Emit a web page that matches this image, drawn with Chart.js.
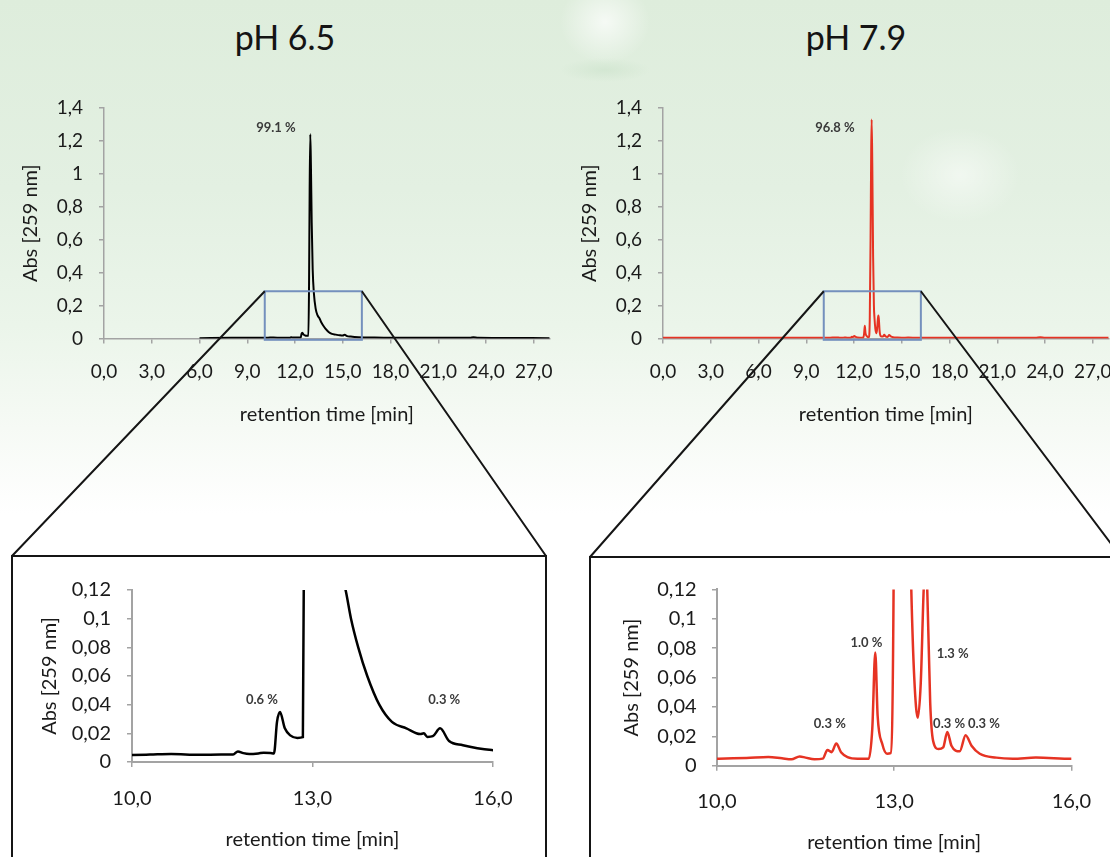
<!DOCTYPE html>
<html>
<head>
<meta charset="utf-8">
<title>HPLC purity pH 6.5 / pH 7.9</title>
<script src="https://cdn.jsdelivr.net/npm/chart.js@4.4.1/dist/chart.umd.min.js"></script>
<style>
  html, body { margin: 0; padding: 0; }
  body {
    width: 1110px; height: 857px; overflow: hidden; position: relative;
    font-family: Lato, "Open Sans", sans-serif;
    background:
      radial-gradient(ellipse 45px 42px at 605px 22px, rgba(255,255,255,0.7), rgba(255,255,255,0)),
      radial-gradient(ellipse 45px 12px at 605px 70px, rgba(196,222,196,0.45), rgba(196,222,196,0)),
      radial-gradient(ellipse 60px 48px at 960px 175px, rgba(255,255,255,0.5), rgba(255,255,255,0)),
      linear-gradient(180deg, #deeddc 0%, #e3f0e2 22%, #ebf5ea 38%, #f6faf5 50%, #ffffff 60%);
  }
  canvas { position: absolute; }
  .ph { position: absolute; top: 17px; width: 200px; text-align: center;
        font-size: 34px; line-height: 40px; color: #141414; }
</style>
</head>
<body>
<div class="ph" style="left:185px">pH 6.5</div>
<div class="ph" style="left:756px">pH 7.9</div>

<canvas id="top65" width="570" height="370" style="left:0px;top:80px"></canvas>
<canvas id="top79" width="570" height="370" style="left:559px;top:80px"></canvas>
<canvas id="zoom65" width="528" height="295" style="left:14px;top:562px"></canvas>
<canvas id="zoom79" width="518" height="295" style="left:592px;top:562px"></canvas>
<canvas id="overlay" width="1110" height="857" style="left:0;top:0;pointer-events:none"></canvas>

<script>
// ---------------- DATA ----------------
// pH 6.5 trace: retention time [min] / Abs [259 nm]
const time65 = [6.0, 8.0, 10.0, 10.3, 10.65, 11.12, 11.48, 11.68, 11.76, 11.85, 11.95, 12.1, 12.19, 12.3,
  12.36, 12.41, 12.46, 12.54, 12.63, 12.75, 12.84, 12.88, 12.92, 12.96, 13.0, 13.05, 13.11, 13.19, 13.3,
  13.42, 13.55, 13.64, 13.76, 13.91, 14.11, 14.32, 14.56, 14.79, 14.85, 14.91, 15.0, 15.12, 15.27, 15.5,
  15.74, 15.98, 17.0, 19.0, 21.0, 23.0, 23.2, 23.5, 25.0, 28.0];
const abs65 = [0.002, 0.004, 0.0049, 0.0052, 0.0056, 0.005, 0.0052, 0.0052, 0.0074, 0.0062, 0.0056, 0.006, 0.0065, 0.0063,
  0.006, 0.028, 0.0348, 0.0235, 0.0186, 0.0168, 0.0173, 0.3, 0.9, 1.24, 1.05, 0.7, 0.42, 0.27, 0.18,
  0.14, 0.12, 0.1, 0.08, 0.06, 0.04, 0.028, 0.0235, 0.0195, 0.02, 0.0175, 0.018, 0.0235, 0.0146, 0.0117,
  0.0096, 0.0083, 0.006, 0.004, 0.004, 0.004, 0.007, 0.004, 0.003, 0.002];

// pH 7.9 trace
const time79 = [0, 3, 6, 8, 10.03, 10.5, 10.87, 11.1, 11.26, 11.4, 11.5, 11.65, 11.79, 11.87, 11.94, 12.02,
  12.1, 12.21, 12.38, 12.57, 12.63, 12.68, 12.72, 12.8, 12.88, 12.94, 12.99, 13.04, 13.08, 13.11, 13.15,
  13.2, 13.25, 13.29, 13.34, 13.4, 13.45, 13.5, 13.53, 13.56, 13.61, 13.66, 13.75, 13.83, 13.9, 13.97,
  14.11, 14.21, 14.31, 14.45, 14.73, 15.01, 15.4, 16.01, 18, 20, 22, 23.4, 23.7, 24, 26, 28];
const abs79 = [0.004, 0.004, 0.004, 0.0045, 0.0048, 0.0052, 0.0059, 0.005, 0.0044, 0.0063, 0.0055, 0.0044, 0.0048, 0.0107, 0.0092, 0.0151,
  0.0092, 0.0059, 0.0048, 0.0048, 0.0256, 0.077, 0.034, 0.0146, 0.0081, 0.0085, 0.12, 0.6, 1.15, 1.33, 1.05,
  0.5, 0.2, 0.12, 0.06, 0.0326, 0.056, 0.12, 0.14, 0.12, 0.043, 0.0168, 0.0114, 0.0125, 0.023, 0.0136,
  0.0098, 0.0208, 0.0136, 0.0081, 0.0055, 0.0048, 0.0055, 0.0048, 0.005, 0.005, 0.005, 0.005, 0.008, 0.005, 0.005, 0.005];

// axis ticks
const overviewTimeTicks = [0, 3, 6, 9, 12, 15, 18, 21, 24, 27];
const overviewTimeLabels = ["0,0", "3,0", "6,0", "9,0", "12,0", "15,0", "18,0", "21,0", "24,0", "27,0"];
const overviewAbsTicks = [0, 0.2, 0.4, 0.6, 0.8, 1, 1.2, 1.4];
const overviewAbsLabels = ["0", "0,2", "0,4", "0,6", "0,8", "1", "1,2", "1,4"];
const zoomTimeTicks = [10, 13, 16];
const zoomTimeLabels = ["10,0", "13,0", "16,0"];
const zoomAbsTicks = [0, 0.02, 0.04, 0.06, 0.08, 0.1, 0.12];
const zoomAbsLabels = ["0", "0,02", "0,04", "0,06", "0,08", "0,1", "0,12"];

// peak percentages (text, retention time, absorbance where the label sits)
const mainText65 = ["99.1 %"], mainTime65 = [10.8], mainAbs65 = [1.28];
const mainText79 = ["96.8 %"], mainTime79 = [10.8], mainAbs79 = [1.28];
const minorText65 = ["0.6 %", "0.3 %"], minorTime65 = [12.16, 15.19], minorAbs65 = [0.0433, 0.0433];
const minorText79 = ["0.3 %", "1.0 %", "1.3 %", "0.3 %", "0.3 %"];
const minorTime79 = [11.91, 12.53, 13.99, 13.93, 14.52];
const minorAbs79 = [0.0282, 0.0835, 0.0763, 0.0282, 0.0282];

// ---------------- STYLE ----------------
const FONT = "Lato, 'Open Sans', sans-serif";
const AXIS = "#a3a3a3";
const TEXT = "#1a1a1a";
const RED = "#e63323";
const ZOOM_BOX = { from: 10.1, to: 16.2, top: 0.287, bottom: -0.008 };

const peakLabels = {
  id: "peakLabels",
  afterDatasetsDraw(chart, args, opts) {
    const { ctx, scales: { x, y } } = chart;
    ctx.save();
    if (opts.box) {
      ctx.strokeStyle = "#7490bd";
      ctx.lineWidth = 2;
      const x0 = x.getPixelForValue(ZOOM_BOX.from), x1 = x.getPixelForValue(ZOOM_BOX.to);
      const y0 = y.getPixelForValue(ZOOM_BOX.top), y1 = y.getPixelForValue(ZOOM_BOX.bottom);
      ctx.strokeRect(x0, y0, x1 - x0, y1 - y0);
    }
    ctx.font = "bold 13px " + FONT;
    ctx.fillStyle = "#3a3a3a";
    ctx.textAlign = "center";
    ctx.textBaseline = "middle";
    opts.text.forEach((t, i) => {
      ctx.fillText(t, x.getPixelForValue(opts.times[i]), y.getPixelForValue(opts.abs[i]));
    });
    ctx.restore();
  }
};

function timeAxis(ticks, labels, min, max, c) {
  return {
    type: "linear", min: min, max: max,
    afterBuildTicks: s => { s.ticks = ticks.map(v => ({ value: v })); },
    afterFit: s => { s.height = c.height; },
    ticks: { autoSkip: false, maxRotation: 0, padding: c.pad, color: TEXT,
             font: { family: FONT, size: c.size }, callback: (v, i) => labels[i] },
    grid: { drawOnChartArea: false, tickLength: 5, color: AXIS, lineWidth: 1.5 },
    border: { color: AXIS, width: c.axisWidth },
    title: { display: true, text: "retention time [min]", color: TEXT,
             font: { family: FONT, size: c.titleSize }, padding: { top: 0, bottom: c.titlePad } }
  };
}

function absAxis(ticks, labels, max, c) {
  return {
    type: "linear", min: 0, max: max,
    afterBuildTicks: s => { s.ticks = ticks.map(v => ({ value: v })); },
    afterFit: s => { s.width = c.width; },
    ticks: { padding: c.pad, color: TEXT, font: { family: FONT, size: c.size },
             callback: (v, i) => labels[i] },
    grid: { drawOnChartArea: false, tickLength: 5, color: AXIS, lineWidth: 1.5 },
    border: { color: AXIS, width: c.axisWidth },
    title: { display: true, text: "Abs [259 nm]", color: TEXT,
             font: { family: FONT, size: c.titleSize }, padding: { top: c.titlePad, bottom: 0 } }
  };
}

function makeChart(id, times, abs, color, lineWidth, scales, padding, labels) {
  return new Chart(document.getElementById(id), {
    type: "line",
    data: {
      datasets: [{
        data: times.map((t, i) => ({ x: t, y: abs[i] })),
        borderColor: color,
        borderWidth: lineWidth,
        pointRadius: 0,
        cubicInterpolationMode: "monotone",
        fill: false
      }]
    },
    options: {
      responsive: false,
      animation: false,
      devicePixelRatio: 1,
      layout: { padding: padding },
      plugins: { legend: { display: false }, tooltip: { enabled: false }, peakLabels: labels },
      scales: scales
    },
    plugins: [peakLabels]
  });
}

// ---------------- CHARTS ----------------
const topX = { height: 103.5, pad: 17, size: 19, titleSize: 20, titlePad: 15, axisWidth: 1.5 };
const topY = { width: 86, pad: 16, size: 19, titleSize: 20, titlePad: 0.5, axisWidth: 1.5 };
const topPadding = { left: 18, top: 28, right: 15.3, bottom: 8 };

const chartTop65 = makeChart("top65", time65, abs65, "#000", 2, {
  x: timeAxis(overviewTimeTicks, overviewTimeLabels, 0, 28, topX),
  y: absAxis(overviewAbsTicks, overviewAbsLabels, 1.4, topY)
}, topPadding, { text: mainText65, times: mainTime65, abs: mainAbs65, box: true });

const chartTop79 = makeChart("top79", time79, abs79, RED, 2, {
  x: timeAxis(overviewTimeTicks, overviewTimeLabels, 0, 28, topX),
  y: absAxis(overviewAbsTicks, overviewAbsLabels, 1.4, topY)
}, topPadding, { text: mainText79, times: mainTime79, abs: mainAbs79, box: true });

const chartZoom65 = makeChart("zoom65", time65, abs65, "#000", 2.5, {
  x: timeAxis(zoomTimeTicks, zoomTimeLabels, 10, 16, { height: 95, pad: 19.5, size: 20, titleSize: 20, titlePad: 5, axisWidth: 2 }),
  y: absAxis(zoomAbsTicks, zoomAbsLabels, 0.12, { width: 102, pad: 16, size: 20, titleSize: 20, titlePad: 8, axisWidth: 2 })
}, { left: 16, top: 21.3, right: 49, bottom: 0 }, { text: minorText65, times: minorTime65, abs: minorAbs65, box: false });

const chartZoom79 = makeChart("zoom79", time79, abs79, RED, 2.5, {
  x: timeAxis(zoomTimeTicks, zoomTimeLabels, 10, 16, { height: 91.3, pad: 19, size: 20, titleSize: 20, titlePad: 2, axisWidth: 2 }),
  y: absAxis(zoomAbsTicks, zoomAbsLabels, 0.12, { width: 109, pad: 15.4, size: 20, titleSize: 20, titlePad: 12, axisWidth: 2 })
}, { left: 16, top: 20.7, right: 30, bottom: 0 }, { text: minorText79, times: minorTime79, abs: minorAbs79, box: false });

// ---------------- ZOOM FRAMES + CONNECTING LINES ----------------
function pagePoint(chart, t, a) {
  const el = chart.canvas;
  return [el.offsetLeft + chart.scales.x.getPixelForValue(t), el.offsetTop + chart.scales.y.getPixelForValue(a)];
}

function drawFrame(ctx, chart, left, right, top) {
  const a = pagePoint(chart, ZOOM_BOX.from, ZOOM_BOX.top);
  const b = pagePoint(chart, ZOOM_BOX.to, ZOOM_BOX.top);
  ctx.beginPath();
  ctx.moveTo(left, 857);
  ctx.lineTo(left, top);
  ctx.lineTo(right, top);
  ctx.lineTo(right, 857);
  ctx.moveTo(a[0], a[1]);
  ctx.lineTo(left, top);
  ctx.moveTo(b[0], b[1]);
  ctx.lineTo(right, top);
  ctx.stroke();
}

const octx = document.getElementById("overlay").getContext("2d");
octx.strokeStyle = "#151515";
octx.lineWidth = 2;
octx.lineJoin = "miter";
drawFrame(octx, chartTop65, 12, 546, 556);
drawFrame(octx, chartTop79, 590, 1121, 557);
</script>
</body>
</html>
